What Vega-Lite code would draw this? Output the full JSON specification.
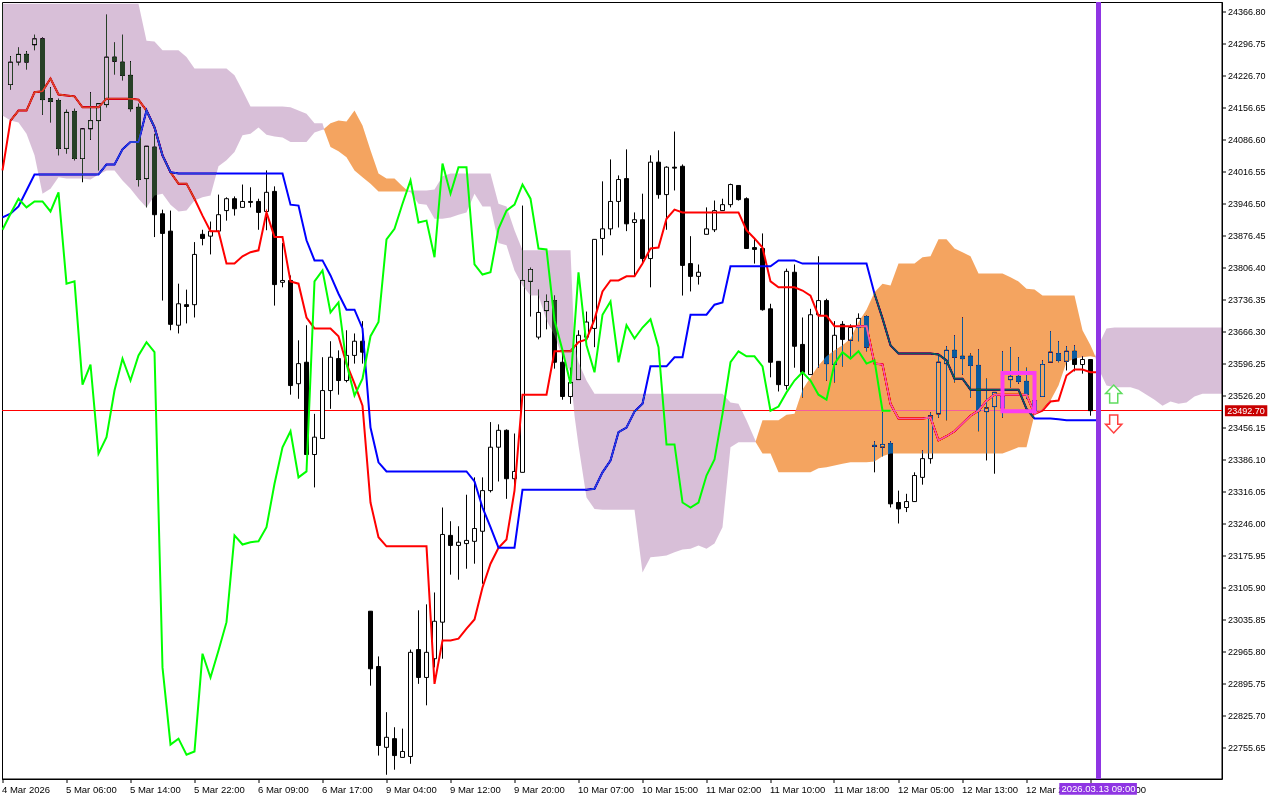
{
"$schema":"https://vega.github.io/schema/vega-lite/v6.json",
"width":1220,"height":777,
"autosize":{"type":"none","contains":"content"},
"padding":{"left":2,"top":2,"right":58,"bottom":21},
"background":"white",
"config":{"view":{"stroke":"black","strokeWidth":1},"axis":{"grid":false,"title":null}},
"datasets":{
"candles":[
{"i":1,"o":24207,"c":24256,"h":24269,"l":24196},{"i":2,"o":24256,"c":24273,"h":24288,"l":24249},{"i":3,"o":24273,"c":24256,"h":24280,"l":24240},{"i":4,"o":24294,"c":24307,"h":24316,"l":24282},{"i":5,"o":24307,"c":24174,"h":24310,"l":24141},{"i":6,"o":24176,"c":24170,"h":24201,"l":24124},{"i":7,"o":24172,"c":24067,"h":24176,"l":24052},{"i":8,"o":24067,"c":24146,"h":24152,"l":24056},{"i":9,"o":24148,"c":24045,"h":24154,"l":24041},{"i":10,"o":24045,"c":24110,"h":24110,"l":23993},
{"i":11,"o":24110,"c":24128,"h":24190,"l":24086},{"i":12,"o":24128,"c":24165,"h":24165,"l":24019},{"i":13,"o":24163,"c":24267,"h":24360,"l":24157},{"i":14,"o":24267,"c":24258,"h":24299,"l":24229},{"i":15,"o":24256,"c":24227,"h":24316,"l":24216},{"i":16,"o":24227,"c":24154,"h":24258,"l":24148},{"i":17,"o":24157,"c":23999,"h":24165,"l":23984},{"i":18,"o":24001,"c":24072,"h":24072,"l":23938},{"i":19,"o":24070,"c":23922,"h":24099,"l":23873},{"i":20,"o":23924,"c":23881,"h":23933,"l":23734},
{"i":21,"o":23886,"c":23682,"h":23931,"l":23669},{"i":22,"o":23680,"c":23727,"h":23771,"l":23662},{"i":23,"o":23725,"c":23721,"h":23758,"l":23684},{"i":24,"o":23725,"c":23835,"h":23862,"l":23697},{"i":25,"o":23879,"c":23870,"h":23889,"l":23855},{"i":26,"o":23875,"c":23886,"h":23907,"l":23835},{"i":27,"o":23886,"c":23922,"h":23966,"l":23886},{"i":28,"o":23931,"c":23957,"h":23960,"l":23909},{"i":29,"o":23957,"c":23935,"h":23962,"l":23920},{"i":30,"o":23938,"c":23951,"h":23988,"l":23938},
{"i":31,"o":23951,"c":23949,"h":23982,"l":23938},{"i":32,"o":23951,"c":23927,"h":23957,"l":23889},{"i":33,"o":23929,"c":23971,"h":24019,"l":23888},{"i":34,"o":23973,"c":23769,"h":23984,"l":23723},{"i":35,"o":23774,"c":23778,"h":23860,"l":23763},{"i":36,"o":23778,"c":23548,"h":23789,"l":23528},{"i":37,"o":23552,"c":23596,"h":23647,"l":23519},{"i":38,"o":23599,"c":23397,"h":23680,"l":23397},{"i":39,"o":23397,"c":23435,"h":23486,"l":23325},{"i":40,"o":23432,"c":23537,"h":23610,"l":23432},
{"i":41,"o":23537,"c":23610,"h":23645,"l":23497},{"i":42,"o":23607,"c":23559,"h":23625,"l":23528},{"i":43,"o":23559,"c":23614,"h":23669,"l":23555},{"i":44,"o":23614,"c":23645,"h":23662,"l":23596},{"i":45,"o":23645,"c":23621,"h":23689,"l":23596},{"i":46,"o":23054,"c":22928,"h":23054,"l":22891},{"i":47,"o":22933,"c":22760,"h":22955,"l":22738},{"i":48,"o":22756,"c":22778,"h":22833,"l":22696},{"i":49,"o":22775,"c":22738,"h":22800,"l":22707},{"i":50,"o":22734,"c":22747,"h":22797,"l":22734},
{"i":51,"o":22736,"c":22964,"h":22970,"l":22720},{"i":52,"o":22970,"c":22909,"h":23056,"l":22895},{"i":53,"o":22909,"c":22964,"h":23069,"l":22848},{"i":54,"o":22950,"c":23032,"h":23095,"l":22931},{"i":55,"o":23030,"c":23222,"h":23281,"l":22950},{"i":56,"o":23220,"c":23198,"h":23251,"l":23134},{"i":57,"o":23198,"c":23205,"h":23240,"l":23123},{"i":58,"o":23202,"c":23209,"h":23309,"l":23147},{"i":59,"o":23207,"c":23235,"h":23347,"l":23158},{"i":60,"o":23229,"c":23318,"h":23347,"l":23114},
{"i":61,"o":23318,"c":23413,"h":23468,"l":23314},{"i":62,"o":23413,"c":23450,"h":23463,"l":23338},{"i":63,"o":23450,"c":23344,"h":23452,"l":23300},{"i":64,"o":23344,"c":23360,"h":23443,"l":23322},{"i":65,"o":23358,"c":23778,"h":23942,"l":23358},{"i":66,"o":23776,"c":23802,"h":23806,"l":23699},{"i":67,"o":23654,"c":23708,"h":23758,"l":23649},{"i":68,"o":23712,"c":23732,"h":23747,"l":23671},{"i":69,"o":23734,"c":23599,"h":23745,"l":23585},{"i":70,"o":23599,"c":23524,"h":23629,"l":23517},
{"i":71,"o":23524,"c":23555,"h":23587,"l":23508},{"i":72,"o":23561,"c":23658,"h":23669,"l":23561},{"i":73,"o":23654,"c":23687,"h":23710,"l":23654},{"i":74,"o":23673,"c":23868,"h":23868,"l":23632},{"i":75,"o":23870,"c":23891,"h":23995,"l":23833},{"i":76,"o":23891,"c":23951,"h":24043,"l":23877},{"i":77,"o":23951,"c":23999,"h":24008,"l":23894},{"i":78,"o":24001,"c":23902,"h":24065,"l":23886},{"i":79,"o":23905,"c":23911,"h":23927,"l":23789},{"i":80,"o":23911,"c":23826,"h":23968,"l":23815},
{"i":81,"o":23826,"c":24037,"h":24052,"l":23763},{"i":82,"o":24037,"c":23966,"h":24063,"l":23957},{"i":83,"o":23966,"c":24026,"h":24028,"l":23889},{"i":84,"o":24026,"c":24024,"h":24104,"l":23975},{"i":85,"o":24028,"c":23811,"h":24032,"l":23745},{"i":86,"o":23815,"c":23787,"h":23875,"l":23754},{"i":87,"o":23787,"c":23796,"h":23813,"l":23769},{"i":88,"o":23879,"c":23891,"h":23938,"l":23879},{"i":89,"o":23889,"c":23931,"h":23953,"l":23884},{"i":90,"o":23931,"c":23944,"h":23957,"l":23931},
{"i":91,"o":23944,"c":23988,"h":23990,"l":23938},{"i":92,"o":23986,"c":23955,"h":23986,"l":23953},{"i":93,"o":23957,"c":23848,"h":23960,"l":23848},{"i":94,"o":23850,"c":23846,"h":23870,"l":23815},{"i":95,"o":23848,"c":23714,"h":23881,"l":23712},{"i":96,"o":23716,"c":23599,"h":23727,"l":23566},{"i":97,"o":23601,"c":23550,"h":23601,"l":23535},{"i":98,"o":23548,"c":23798,"h":23804,"l":23539},{"i":99,"o":23796,"c":23634,"h":23813,"l":23587},{"i":100,"o":23638,"c":23577,"h":23697,"l":23522},
{"i":101,"o":23572,"c":23703,"h":23716,"l":23572},{"i":102,"o":23703,"c":23734,"h":23831,"l":23587},{"i":103,"o":23734,"c":23596,"h":23738,"l":23559},{"i":104,"o":23594,"c":23658,"h":23689,"l":23555},{"i":105,"o":23682,"c":23649,"h":23689,"l":23590},{"i":106,"o":23647,"c":23675,"h":23682,"l":23612},{"i":107,"o":23675,"c":23695,"h":23706,"l":23645},{"i":108,"o":23699,"c":23632,"h":23701,"l":23623},{"i":109,"o":23417,"c":23415,"h":23426,"l":23358},{"i":110,"o":23413,"c":23419,"h":23489,"l":23393},
{"i":111,"o":23421,"c":23289,"h":23426,"l":23281},{"i":112,"o":23292,"c":23278,"h":23318,"l":23246},{"i":113,"o":23281,"c":23294,"h":23311,"l":23271},{"i":114,"o":23294,"c":23351,"h":23358,"l":23294},{"i":115,"o":23347,"c":23388,"h":23406,"l":23331},{"i":116,"o":23388,"c":23482,"h":23489,"l":23377},{"i":117,"o":23486,"c":23599,"h":23614,"l":23478},{"i":118,"o":23596,"c":23625,"h":23634,"l":23472},{"i":119,"o":23625,"c":23610,"h":23658,"l":23555},{"i":120,"o":23612,"c":23607,"h":23697,"l":23572},
{"i":121,"o":23612,"c":23592,"h":23618,"l":23522},{"i":122,"o":23592,"c":23493,"h":23627,"l":23448},{"i":123,"o":23491,"c":23499,"h":23563,"l":23384},{"i":124,"o":23502,"c":23533,"h":23533,"l":23355},{"i":125,"o":23499,"c":23524,"h":23623,"l":23478},{"i":126,"o":23561,"c":23568,"h":23632,"l":23544},{"i":127,"o":23568,"c":23557,"h":23610,"l":23552},{"i":128,"o":23557,"c":23528,"h":23587,"l":23519},{"i":129,"o":23493,"c":23515,"h":23530,"l":23485},{"i":130,"o":23524,"c":23594,"h":23603,"l":23524},
{"i":131,"o":23599,"c":23621,"h":23667,"l":23599},{"i":132,"o":23618,"c":23603,"h":23645,"l":23599},{"i":133,"o":23601,"c":23623,"h":23634,"l":23581},{"i":134,"o":23623,"c":23594,"h":23636,"l":23579},{"i":135,"o":23594,"c":23605,"h":23612,"l":23574},{"i":136,"o":23605,"c":23493,"h":23605,"l":23482}
],
"lines":[
{"i":0,"t":24019,"k":23916},{"i":1,"t":24128,"k":23924},{"i":2,"t":24150,"k":23940},{"i":3,"t":24150,"k":23975},{"i":4,"t":24190,"k":24010},{"i":5,"t":24192,"k":24010},{"i":6,"t":24220,"k":24010},{"i":7,"t":24185,"k":24010},{"i":8,"t":24183,"k":24010},{"i":9,"t":24181,"k":24010},{"i":10,"t":24157,"k":24010},{"i":11,"t":24157,"k":24010},{"i":12,"t":24157,"k":24010},{"i":13,"t":24176,"k":24032},{"i":14,"t":24176,"k":24032},{"i":15,"t":24176,"k":24065},{"i":16,"t":24176,"k":24081},{"i":17,"t":24174,"k":24081},{"i":18,"t":24150,"k":24150},{"i":19,"t":24113,"k":24113},{"i":20,"t":24052,"k":24052},{"i":21,"t":24015,"k":24015},{"i":22,"t":23990,"k":24012},{"i":23,"t":23990,"k":24012},{"i":24,"t":23957,"k":24012},{"i":25,"t":23920,"k":24012},{"i":26,"t":23886,"k":24012},{"i":27,"t":23886,"k":24012},{"i":28,"t":23815,"k":24012},{"i":29,"t":23815,"k":24012},{"i":30,"t":23831,"k":24012},{"i":31,"t":23840,"k":24012},{"i":32,"t":23844,"k":24012},{"i":33,"t":23927,"k":24012},{"i":34,"t":23873,"k":24012},{"i":35,"t":23873,"k":24012},{"i":36,"t":23776,"k":23944},{"i":37,"t":23771,"k":23942},{"i":38,"t":23697,"k":23866},{"i":39,"t":23673,"k":23822},{"i":40,"t":23673,"k":23822},{"i":41,"t":23673,"k":23789},{"i":42,"t":23656,"k":23749},{"i":43,"t":23596,"k":23714},{"i":44,"t":23552,"k":23714},{"i":45,"t":23504,"k":23673},{"i":46,"t":23292,"k":23456},{"i":47,"t":23216,"k":23380},{"i":48,"t":23196,"k":23360},{"i":49,"t":23196,"k":23360},{"i":50,"t":23196,"k":23360},{"i":51,"t":23196,"k":23360},{"i":52,"t":23196,"k":23360},{"i":53,"t":23196,"k":23360},{"i":54,"t":22895,"k":23360},{"i":55,"t":22990,"k":23360},{"i":56,"t":22990,"k":23360},{"i":57,"t":22994,"k":23360},{"i":58,"t":23016,"k":23360},{"i":59,"t":23036,"k":23338},{"i":60,"t":23106,"k":23281},{"i":61,"t":23158,"k":23238},{"i":62,"t":23193,"k":23193},{"i":63,"t":23211,"k":23193},{"i":64,"t":23318,"k":23193},{"i":65,"t":23528,"k":23320},{"i":66,"t":23528,"k":23320},{"i":67,"t":23528,"k":23320},{"i":68,"t":23528,"k":23320},{"i":69,"t":23623,"k":23320},{"i":70,"t":23623,"k":23320},{"i":71,"t":23623,"k":23320},{"i":72,"t":23643,"k":23320},{"i":73,"t":23649,"k":23320},{"i":74,"t":23693,"k":23322},{"i":75,"t":23754,"k":23358},{"i":76,"t":23778,"k":23384},{"i":77,"t":23778,"k":23446},{"i":78,"t":23787,"k":23456},{"i":79,"t":23787,"k":23491},{"i":80,"t":23815,"k":23508},{"i":81,"t":23848,"k":23590},{"i":82,"t":23850,"k":23590},{"i":83,"t":23913,"k":23590},{"i":84,"t":23933,"k":23610},{"i":85,"t":23927,"k":23610},{"i":86,"t":23927,"k":23703},{"i":87,"t":23927,"k":23703},{"i":88,"t":23927,"k":23703},{"i":89,"t":23927,"k":23725},{"i":90,"t":23927,"k":23730},{"i":91,"t":23927,"k":23809},{"i":92,"t":23927,"k":23809},{"i":93,"t":23888,"k":23809},{"i":94,"t":23870,"k":23809},{"i":95,"t":23850,"k":23809},{"i":96,"t":23776,"k":23809},{"i":97,"t":23763,"k":23822},{"i":98,"t":23763,"k":23822},{"i":99,"t":23763,"k":23822},{"i":100,"t":23756,"k":23815},{"i":101,"t":23745,"k":23815},{"i":102,"t":23701,"k":23815},{"i":103,"t":23701,"k":23815},{"i":104,"t":23678,"k":23815},{"i":105,"t":23678,"k":23815},{"i":106,"t":23678,"k":23815},{"i":107,"t":23678,"k":23815},{"i":108,"t":23678,"k":23815},{"i":109,"t":23596,"k":23749},{"i":110,"t":23594,"k":23695},{"i":111,"t":23508,"k":23636},{"i":112,"t":23476,"k":23618},{"i":113,"t":23476,"k":23618},{"i":114,"t":23476,"k":23618},{"i":115,"t":23476,"k":23618},{"i":116,"t":23478,"k":23618},{"i":117,"t":23428,"k":23616},{"i":118,"t":23437,"k":23603},{"i":119,"t":23448,"k":23563},{"i":120,"t":23465,"k":23563},{"i":121,"t":23482,"k":23539},{"i":122,"t":23493,"k":23539},{"i":123,"t":23515,"k":23539},{"i":124,"t":23528,"k":23539},{"i":125,"t":23528,"k":23539},{"i":126,"t":23528,"k":23539},{"i":127,"t":23528,"k":23539},{"i":128,"t":23528,"k":23497},{"i":129,"t":23486,"k":23476},{"i":130,"t":23493,"k":23476},{"i":131,"t":23513,"k":23476},{"i":132,"t":23515,"k":23474},{"i":133,"t":23570,"k":23472},{"i":134,"t":23583,"k":23472},{"i":135,"t":23583,"k":23472},{"i":136,"t":23577,"k":23472},{"i":137,"t":23577,"k":23472}
],
"chikou":[
{"i":0,"g":23889},{"i":1,"g":23924},{"i":2,"g":23957},{"i":3,"g":23938},{"i":4,"g":23951},{"i":5,"g":23951},{"i":6,"g":23929},{"i":7,"g":23971},{"i":8,"g":23771},{"i":9,"g":23776},{"i":10,"g":23550},{"i":11,"g":23594},{"i":12,"g":23399},{"i":13,"g":23435},{"i":14,"g":23537},{"i":15,"g":23607},{"i":16,"g":23559},{"i":17,"g":23614},{"i":18,"g":23643},{"i":19,"g":23621},{"i":20,"g":22931},{"i":21,"g":22762},{"i":22,"g":22775},{"i":23,"g":22740},{"i":24,"g":22747},{"i":25,"g":22961},{"i":26,"g":22909},{"i":27,"g":22968},{"i":28,"g":23030},{"i":29,"g":23220},{"i":30,"g":23200},{"i":31,"g":23205},{"i":32,"g":23207},{"i":33,"g":23238},{"i":34,"g":23333},{"i":35,"g":23413},{"i":36,"g":23448},{"i":37,"g":23347},{"i":38,"g":23360},{"i":39,"g":23776},{"i":40,"g":23800},{"i":41,"g":23708},{"i":42,"g":23730},{"i":43,"g":23596},{"i":44,"g":23526},{"i":45,"g":23563},{"i":46,"g":23656},{"i":47,"g":23687},{"i":48,"g":23868},{"i":49,"g":23891},{"i":50,"g":23946},{"i":51,"g":23997},{"i":52,"g":23905},{"i":53,"g":23909},{"i":54,"g":23829},{"i":55,"g":24034},{"i":56,"g":23968},{"i":57,"g":24026},{"i":58,"g":24026},{"i":59,"g":23813},{"i":60,"g":23791},{"i":61,"g":23796},{"i":62,"g":23891},{"i":63,"g":23931},{"i":64,"g":23944},{"i":65,"g":23988},{"i":66,"g":23957},{"i":67,"g":23848},{"i":68,"g":23846},{"i":69,"g":23691},{"i":70,"g":23625},{"i":71,"g":23552},{"i":72,"g":23796},{"i":73,"g":23636},{"i":74,"g":23577},{"i":75,"g":23703},{"i":76,"g":23732},{"i":77,"g":23599},{"i":78,"g":23680},{"i":79,"g":23651},{"i":80,"g":23675},{"i":81,"g":23693},{"i":82,"g":23632},{"i":83,"g":23419},{"i":84,"g":23419},{"i":85,"g":23292},{"i":86,"g":23281},{"i":87,"g":23292},{"i":88,"g":23351},{"i":89,"g":23386},{"i":90,"g":23486},{"i":91,"g":23599},{"i":92,"g":23623},{"i":93,"g":23612},{"i":94,"g":23612},{"i":95,"g":23590},{"i":96,"g":23493},{"i":97,"g":23502},{"i":98,"g":23533},{"i":99,"g":23559},{"i":100,"g":23577},{"i":101,"g":23559},{"i":102,"g":23528},{"i":103,"g":23517},{"i":104,"g":23596},{"i":105,"g":23621},{"i":106,"g":23607},{"i":107,"g":23623},{"i":108,"g":23596},{"i":109,"g":23603},{"i":110,"g":23493},{"i":111,"g":23493}
],
"kumo":[
{"s":1,"n":"bear","i":0,"a":24384,"b":24139},{"s":1,"n":"bear","i":1,"a":24384,"b":24128},{"s":1,"n":"bear","i":2,"a":24384,"b":24124},{"s":1,"n":"bear","i":3,"a":24384,"b":24099},{"s":1,"n":"bear","i":4,"a":24384,"b":24052},{"s":1,"n":"bear","i":5,"a":24384,"b":23968},{"s":1,"n":"bear","i":6,"a":24384,"b":23979},{"s":1,"n":"bear","i":7,"a":24384,"b":24004},{"s":1,"n":"bear","i":8,"a":24384,"b":24001},{"s":1,"n":"bear","i":9,"a":24384,"b":24001},{"s":1,"n":"bear","i":10,"a":24384,"b":24001},{"s":1,"n":"bear","i":11,"a":24384,"b":23999},{"s":1,"n":"bear","i":12,"a":24384,"b":24010},{"s":1,"n":"bear","i":13,"a":24384,"b":24019},{"s":1,"n":"bear","i":14,"a":24384,"b":24019},{"s":1,"n":"bear","i":15,"a":24384,"b":23997},{"s":1,"n":"bear","i":16,"a":24384,"b":23979},{"s":1,"n":"bear","i":17,"a":24384,"b":23957},{"s":1,"n":"bear","i":18,"a":24303,"b":23938},{"s":1,"n":"bear","i":19,"a":24301,"b":23964},{"s":1,"n":"bear","i":20,"a":24282,"b":23968},{"s":1,"n":"bear","i":21,"a":24282,"b":23944},{"s":1,"n":"bear","i":22,"a":24282,"b":23929},{"s":1,"n":"bear","i":23,"a":24267,"b":23931},{"s":1,"n":"bear","i":24,"a":24242,"b":23953},{"s":1,"n":"bear","i":25,"a":24242,"b":23960},{"s":1,"n":"bear","i":26,"a":24242,"b":23964},{"s":1,"n":"bear","i":27,"a":24242,"b":24028},{"s":1,"n":"bear","i":28,"a":24242,"b":24041},{"s":1,"n":"bear","i":29,"a":24227,"b":24059},{"s":1,"n":"bear","i":30,"a":24194,"b":24096},{"s":1,"n":"bear","i":31,"a":24159,"b":24099},{"s":1,"n":"bear","i":32,"a":24159,"b":24113},{"s":1,"n":"bear","i":33,"a":24159,"b":24097},{"s":1,"n":"bear","i":34,"a":24159,"b":24093},{"s":1,"n":"bear","i":35,"a":24159,"b":24091},{"s":1,"n":"bear","i":36,"a":24157,"b":24081},{"s":1,"n":"bear","i":37,"a":24150,"b":24081},{"s":1,"n":"bear","i":38,"a":24143,"b":24081},{"s":1,"n":"bear","i":39,"a":24122,"b":24102},{"s":1,"n":"bear","i":40,"a":24122,"b":24108},{"s":1,"n":"bear","i":40.2,"a":24110,"b":24108},
{"s":2,"n":"bull","i":40.2,"a":24110,"b":24108},{"s":2,"n":"bull","i":41,"a":24122,"b":24070},{"s":2,"n":"bull","i":42,"a":24128,"b":24061},{"s":2,"n":"bull","i":43,"a":24126,"b":24048},{"s":2,"n":"bull","i":44,"a":24150,"b":24019},{"s":2,"n":"bull","i":45,"a":24117,"b":24004},{"s":2,"n":"bull","i":46,"a":24063,"b":23990},{"s":2,"n":"bull","i":47,"a":24012,"b":23973},{"s":2,"n":"bull","i":48,"a":24001,"b":23973},{"s":2,"n":"bull","i":49,"a":24001,"b":23973},{"s":2,"n":"bull","i":50,"a":23984,"b":23973},{"s":2,"n":"bull","i":50.6,"a":23975,"b":23973},
{"s":3,"n":"bear","i":50.6,"a":23975,"b":23973},{"s":3,"n":"bear","i":51,"a":23975,"b":23971},{"s":3,"n":"bear","i":52,"a":23975,"b":23946},{"s":3,"n":"bear","i":53,"a":23975,"b":23944},{"s":3,"n":"bear","i":54,"a":23977,"b":23913},{"s":3,"n":"bear","i":55,"a":24006,"b":23913},{"s":3,"n":"bear","i":56,"a":24012,"b":23916},{"s":3,"n":"bear","i":57,"a":24012,"b":23922},{"s":3,"n":"bear","i":58,"a":24012,"b":23927},{"s":3,"n":"bear","i":59,"a":24012,"b":23968},{"s":3,"n":"bear","i":60,"a":24012,"b":23940},{"s":3,"n":"bear","i":61,"a":24012,"b":23940},{"s":3,"n":"bear","i":62,"a":23946,"b":23860},{"s":3,"n":"bear","i":63,"a":23940,"b":23855},{"s":3,"n":"bear","i":64,"a":23888,"b":23800},{"s":3,"n":"bear","i":65,"a":23844,"b":23767},{"s":3,"n":"bear","i":66,"a":23844,"b":23745},{"s":3,"n":"bear","i":67,"a":23844,"b":23745},{"s":3,"n":"bear","i":68,"a":23844,"b":23691},{"s":3,"n":"bear","i":69,"a":23844,"b":23658},{"s":3,"n":"bear","i":70,"a":23844,"b":23610},{"s":3,"n":"bear","i":71,"a":23844,"b":23577},{"s":3,"n":"bear","i":71.5,"a":23636,"b":23482},{"s":3,"n":"bear","i":72,"a":23599,"b":23417},{"s":3,"n":"bear","i":73,"a":23559,"b":23303},{"s":3,"n":"bear","i":74,"a":23530,"b":23278},{"s":3,"n":"bear","i":75,"a":23530,"b":23276},{"s":3,"n":"bear","i":76,"a":23530,"b":23276},{"s":3,"n":"bear","i":77,"a":23530,"b":23276},{"s":3,"n":"bear","i":78,"a":23530,"b":23276},{"s":3,"n":"bear","i":79,"a":23530,"b":23276},{"s":3,"n":"bear","i":80,"a":23530,"b":23139},{"s":3,"n":"bear","i":81,"a":23530,"b":23172},{"s":3,"n":"bear","i":82,"a":23530,"b":23174},{"s":3,"n":"bear","i":83,"a":23530,"b":23176},{"s":3,"n":"bear","i":84,"a":23530,"b":23183},{"s":3,"n":"bear","i":85,"a":23530,"b":23189},{"s":3,"n":"bear","i":86,"a":23530,"b":23191},{"s":3,"n":"bear","i":87,"a":23530,"b":23198},{"s":3,"n":"bear","i":88,"a":23530,"b":23191},{"s":3,"n":"bear","i":89,"a":23530,"b":23202},{"s":3,"n":"bear","i":90,"a":23530,"b":23238},{"s":3,"n":"bear","i":91,"a":23511,"b":23413},{"s":3,"n":"bear","i":92,"a":23508,"b":23424},{"s":3,"n":"bear","i":93,"a":23472,"b":23424},{"s":3,"n":"bear","i":94,"a":23432,"b":23424},{"s":3,"n":"bear","i":94.15,"a":23426,"b":23424},
{"s":4,"n":"bull","i":94.15,"a":23426,"b":23424},{"s":4,"n":"bull","i":95,"a":23472,"b":23399},{"s":4,"n":"bull","i":96,"a":23472,"b":23399},{"s":4,"n":"bull","i":97,"a":23472,"b":23358},{"s":4,"n":"bull","i":98,"a":23484,"b":23358},{"s":4,"n":"bull","i":99,"a":23486,"b":23358},{"s":4,"n":"bull","i":100,"a":23539,"b":23358},{"s":4,"n":"bull","i":101,"a":23566,"b":23358},{"s":4,"n":"bull","i":102,"a":23592,"b":23367},{"s":4,"n":"bull","i":103,"a":23612,"b":23369},{"s":4,"n":"bull","i":104,"a":23625,"b":23373},{"s":4,"n":"bull","i":105,"a":23636,"b":23377},{"s":4,"n":"bull","i":106,"a":23651,"b":23380},{"s":4,"n":"bull","i":107,"a":23687,"b":23380},{"s":4,"n":"bull","i":108,"a":23714,"b":23380},{"s":4,"n":"bull","i":109,"a":23752,"b":23382},{"s":4,"n":"bull","i":110,"a":23771,"b":23393},{"s":4,"n":"bull","i":111,"a":23767,"b":23399},{"s":4,"n":"bull","i":112,"a":23815,"b":23399},{"s":4,"n":"bull","i":113,"a":23815,"b":23399},{"s":4,"n":"bull","i":114,"a":23815,"b":23399},{"s":4,"n":"bull","i":115,"a":23829,"b":23399},{"s":4,"n":"bull","i":116,"a":23831,"b":23399},{"s":4,"n":"bull","i":117,"a":23868,"b":23399},{"s":4,"n":"bull","i":118,"a":23868,"b":23399},{"s":4,"n":"bull","i":119,"a":23848,"b":23399},{"s":4,"n":"bull","i":120,"a":23840,"b":23399},{"s":4,"n":"bull","i":121,"a":23831,"b":23399},{"s":4,"n":"bull","i":122,"a":23793,"b":23399},{"s":4,"n":"bull","i":123,"a":23793,"b":23399},{"s":4,"n":"bull","i":124,"a":23793,"b":23399},{"s":4,"n":"bull","i":125,"a":23793,"b":23399},{"s":4,"n":"bull","i":126,"a":23785,"b":23406},{"s":4,"n":"bull","i":127,"a":23776,"b":23413},{"s":4,"n":"bull","i":128,"a":23760,"b":23413},{"s":4,"n":"bull","i":129,"a":23758,"b":23484},{"s":4,"n":"bull","i":130,"a":23745,"b":23495},{"s":4,"n":"bull","i":131,"a":23745,"b":23515},{"s":4,"n":"bull","i":132,"a":23745,"b":23548},{"s":4,"n":"bull","i":133,"a":23745,"b":23599},{"s":4,"n":"bull","i":134,"a":23745,"b":23607},{"s":4,"n":"bull","i":135,"a":23669,"b":23610},{"s":4,"n":"bull","i":136,"a":23636,"b":23612},{"s":4,"n":"bull","i":136.6,"a":23612,"b":23610},
{"s":5,"n":"bear","i":136.6,"a":23612,"b":23610},{"s":5,"n":"bear","i":137,"a":23636,"b":23585},{"s":5,"n":"bear","i":138,"a":23673,"b":23548},{"s":5,"n":"bear","i":139,"a":23675,"b":23544},{"s":5,"n":"bear","i":140,"a":23675,"b":23544},{"s":5,"n":"bear","i":141,"a":23675,"b":23544},{"s":5,"n":"bear","i":142,"a":23675,"b":23539},{"s":5,"n":"bear","i":143,"a":23675,"b":23528},{"s":5,"n":"bear","i":144,"a":23675,"b":23517},{"s":5,"n":"bear","i":145,"a":23675,"b":23504},{"s":5,"n":"bear","i":146,"a":23675,"b":23513},{"s":5,"n":"bear","i":147,"a":23675,"b":23508},{"s":5,"n":"bear","i":148,"a":23675,"b":23511},{"s":5,"n":"bear","i":149,"a":23675,"b":23524},{"s":5,"n":"bear","i":150,"a":23675,"b":23530},{"s":5,"n":"bear","i":151,"a":23675,"b":23530},{"s":5,"n":"bear","i":152,"a":23675,"b":23530},{"s":5,"n":"bear","i":152.4,"a":23675,"b":23530}
]
},
"layer":[
{"data":{"values":[{"p":23492.7}]},"mark":{"type":"rule","color":"#ff0000","strokeWidth":1,"yOffset":-0.3},
 "encoding":{"y":{"field":"p","type":"quantitative","scale":{"domain":[22686.7,24387.6],"nice":false,"zero":false},
   "axis":{"orient":"right","translate":0,"tickCount":40,"values":[24366.8,24296.75,24226.7,24156.65,24086.6,24016.55,23946.5,23876.45,23806.4,23736.35,23666.3,23596.25,23526.2,23456.15,23386.1,23316.05,23246,23175.95,23105.9,23035.85,22965.8,22895.75,22825.7,22755.65],"format":".2f","tickSize":4,"tickColor":"black","domainColor":"black","labelColor":"black","labelFont":"Liberation Sans","labelFontSize":9,"labelPadding":2,"labelOverlap":false,"labelFlush":false,"labelBound":false}}}},
{"data":{"name":"candles"},"mark":{"type":"rule","color":"black","strokeWidth":1},
 "encoding":{"x":{"field":"i","type":"quantitative","scale":{"domain":[-0.0625,152.4375],"nice":false,"zero":false,"padding":0},
   "axis":{"orient":"bottom","translate":0,"tickCount":40,"values":[0,8,16,24,32,40,48,56,64,72,80,88,96,104,112,120,128,136],"labelExpr":"{'0':'4 Mar 2026','8':'5 Mar 06:00','16':'5 Mar 14:00','24':'5 Mar 22:00','32':'6 Mar 09:00','40':'6 Mar 17:00','48':'9 Mar 04:00','56':'9 Mar 12:00','64':'9 Mar 20:00','72':'10 Mar 07:00','80':'10 Mar 15:00','88':'11 Mar 02:00','96':'11 Mar 10:00','104':'11 Mar 18:00','112':'12 Mar 05:00','120':'12 Mar 13:00','128':'12 Mar 21:00','136':'13 Mar 05:00'}[datum.value]","tickSize":4,"tickColor":"black","domainColor":"black","labelColor":"black","labelFont":"Liberation Sans","labelFontSize":9.5,"labelAlign":"left","labelBaseline":"top","labelPadding":2,"labelOffset":-0.5,"labelOverlap":false,"labelFlush":false,"labelBound":false}},
  "y":{"field":"l","type":"quantitative","scale":{"domain":[22686.7,24387.6],"nice":false,"zero":false}},"y2":{"field":"h"}}},
{"data":{"name":"candles"},"mark":{"type":"bar","size":4,"stroke":"black","strokeWidth":1,"orient":"vertical"},
 "encoding":{"x":{"field":"i","type":"quantitative"},"y":{"field":"o","type":"quantitative","stack":null},"y2":{"field":"c"},
  "fill":{"condition":{"test":"datum.c>=datum.o","value":"white"},"value":"black"}}},
{"data":{"name":"lines"},"mark":{"type":"line","color":"#ff0000","strokeWidth":2},
 "encoding":{"x":{"field":"i","type":"quantitative"},"y":{"field":"t","type":"quantitative"}}},
{"data":{"name":"lines"},"mark":{"type":"line","color":"#0000ff","strokeWidth":2},
 "encoding":{"x":{"field":"i","type":"quantitative"},"y":{"field":"k","type":"quantitative"}}},
{"data":{"name":"kumo"},"mark":{"type":"area","blend":"difference","line":false,"opacity":1},
 "encoding":{"x":{"field":"i","type":"quantitative"},"y":{"field":"a","type":"quantitative","stack":null},"y2":{"field":"b"},"detail":{"field":"s"},
  "color":{"field":"n","type":"nominal","legend":null,"scale":{"domain":["bear","bull"],"range":["#274027","#0B5B9F"]}}}},
{"data":{"name":"chikou"},"mark":{"type":"line","color":"#00ff00","strokeWidth":2},
 "encoding":{"x":{"field":"i","type":"quantitative"},"y":{"field":"g","type":"quantitative"}}},
{"data":{"values":[{"a":125,"b":129,"lo":23492,"hi":23575.5}]},"mark":{"type":"rect","fill":null,"fillOpacity":0,"stroke":"#fb3cf2","strokeWidth":4},
 "encoding":{"x":{"field":"a","type":"quantitative"},"x2":{"field":"b"},"y":{"field":"lo","type":"quantitative"},"y2":{"field":"hi"}}},
{"data":{"values":[{"i":137}]},"mark":{"type":"rule","color":"#8f35e3","strokeWidth":5},
 "encoding":{"x":{"field":"i","type":"quantitative"}}},
{"data":{"values":[{"i":138.9,"p":23529.5}]},"mark":{"type":"point","shape":"M0,-1L0.9,-0.05L0.45,-0.05L0.45,1L-0.45,1L-0.45,-0.05L-0.9,-0.05Z","size":324,"fill":"white","fillOpacity":1,"stroke":"#5fdc5f","strokeWidth":1.5,"opacity":1},
 "encoding":{"x":{"field":"i","type":"quantitative"},"y":{"field":"p","type":"quantitative"}}},
{"data":{"values":[{"i":138.9,"p":23464}]},"mark":{"type":"point","shape":"M0,1L0.9,0.05L0.45,0.05L0.45,-1L-0.45,-1L-0.45,0.05L-0.9,0.05Z","size":324,"fill":"white","fillOpacity":1,"stroke":"#ff4040","strokeWidth":1.5,"opacity":1},
 "encoding":{"x":{"field":"i","type":"quantitative"},"y":{"field":"p","type":"quantitative"}}},
{"data":{"values":[{"a":152.8,"b":158.1,"lo":23481,"hi":23505}]},"mark":{"type":"rect","fill":"#c80000"},
 "encoding":{"x":{"field":"a","type":"quantitative"},"x2":{"field":"b"},"y":{"field":"lo","type":"quantitative"},"y2":{"field":"hi"}}},
{"data":{"values":[{"a":155.45,"p":23492.7,"t":"23492.70"}]},"mark":{"type":"text","color":"white","font":"Liberation Sans","fontSize":9,"align":"center","baseline":"middle"},
 "encoding":{"x":{"field":"a","type":"quantitative"},"y":{"field":"p","type":"quantitative"},"text":{"field":"t"}}},
{"data":{"values":[{"a":132.1,"b":141.8,"lo":22652,"hi":22678}]},"mark":{"type":"rect","fill":"#8f35e3"},
 "encoding":{"x":{"field":"a","type":"quantitative"},"x2":{"field":"b"},"y":{"field":"lo","type":"quantitative"},"y2":{"field":"hi"}}},
{"data":{"values":[{"a":137,"p":22665,"t":"2026.03.13 09:00"}]},"mark":{"type":"text","color":"white","font":"Liberation Sans","fontSize":9.5,"align":"center","baseline":"middle"},
 "encoding":{"x":{"field":"a","type":"quantitative"},"y":{"field":"p","type":"quantitative"},"text":{"field":"t"}}}
]
}
